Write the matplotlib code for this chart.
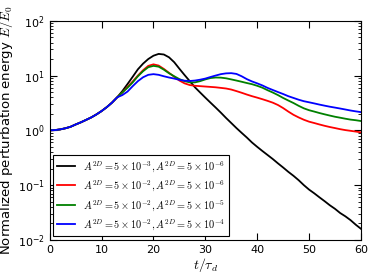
import matplotlib
matplotlib.use("Agg")
import matplotlib.pyplot as plt

plt.rcParams['mathtext.fontset'] = 'cm'

t = list(range(0, 61))

common = [1.0, 1.01, 1.04, 1.09, 1.16, 1.28, 1.40, 1.55, 1.72, 1.95, 2.25, 2.65, 3.2, 4.0]

e_black = common + [5.2, 7.0, 9.5, 13.0, 16.5, 20.0, 23.0, 24.8, 24.2, 21.5, 17.5, 13.3,
                    10.2, 7.9, 6.1, 4.9, 3.95, 3.2, 2.6, 2.1, 1.68, 1.36, 1.1, 0.9, 0.74,
                    0.6, 0.5, 0.42, 0.355, 0.30, 0.25, 0.21, 0.175, 0.148, 0.123, 0.10,
                    0.083, 0.071, 0.060, 0.051, 0.043, 0.037, 0.031, 0.027, 0.023, 0.019,
                    0.016]
e_red = common + [4.9, 6.2, 7.8, 10.0, 12.5, 15.0, 16.0, 15.2, 13.2, 11.2, 9.5, 8.1,
                  7.2, 6.7, 6.5, 6.4, 6.3, 6.2, 6.1, 5.95, 5.8, 5.55, 5.2, 4.85, 4.5, 4.2,
                  3.95, 3.7, 3.45, 3.2, 2.9, 2.55, 2.2, 1.92, 1.72, 1.56, 1.44, 1.36, 1.28,
                  1.21, 1.15, 1.1, 1.05, 1.01, 0.98, 0.95, 0.92]
e_green = common + [4.9, 6.0, 7.5, 9.7, 12.0, 14.2, 15.0, 14.5, 12.8, 11.0, 9.7, 8.6,
                    7.9, 7.5, 7.5, 7.9, 8.5, 9.0, 9.2, 9.15, 8.9, 8.5, 8.1, 7.7, 7.3, 6.95,
                    6.5, 6.0, 5.4, 4.9, 4.4, 3.9, 3.5, 3.15, 2.8, 2.52, 2.33, 2.2, 2.07,
                    1.96, 1.86, 1.77, 1.7, 1.63, 1.57, 1.53, 1.48]
e_blue = common + [4.4, 5.1, 6.4, 7.9, 9.3, 10.3, 10.6, 10.3, 9.7, 9.2, 8.8, 8.35, 8.05,
                   7.95, 8.1, 8.4, 8.8, 9.4, 10.0, 10.6, 10.95, 11.05, 10.7, 9.7, 8.6,
                   7.8, 7.2, 6.6, 5.95, 5.45, 5.0, 4.6, 4.2, 3.9, 3.62, 3.4, 3.25, 3.1,
                   2.95, 2.82, 2.7, 2.6, 2.5, 2.4, 2.3, 2.22, 2.15]

labels = [r'$A^{2D}=5\times10^{-3},A^{2D}=5\times10^{-6}$',
          r'$A^{2D}=5\times10^{-2},A^{2D}=5\times10^{-6}$',
          r'$A^{2D}=5\times10^{-2},A^{2D}=5\times10^{-5}$',
          r'$A^{2D}=5\times10^{-2},A^{2D}=5\times10^{-4}$']
colors = ['k', 'r', 'g', 'b']

fig = plt.figure(figsize=(3.74, 2.8), dpi=100)
ax = fig.add_axes([0.133, 0.143, 0.832, 0.783])

for e, c, lab in zip([e_black, e_red, e_green, e_blue], colors, labels):
    ax.plot(t, e, color=c, lw=1.3, label=lab)

ax.set_yscale('log')
ax.set_xlim(0, 60)
ax.set_ylim(1e-2, 1e2)
ax.set_xticks([0, 10, 20, 30, 40, 50, 60])
ax.tick_params(which='both', direction='in', top=True, right=True, labelsize=8)
ax.tick_params(which='major', length=5)
ax.tick_params(which='minor', length=2.5)
ax.set_xlabel(r'$t/\tau_d$', fontsize=10, labelpad=1)
ax.set_ylabel(r'Normalized perturbation energy $E/E_0$', fontsize=9.5, labelpad=2)

leg = ax.legend(loc='lower left', fontsize=7.4, handlelength=1.7, fancybox=False,
                framealpha=1, borderaxespad=0.35, labelspacing=0.45)
leg.get_frame().set_edgecolor('k')
leg.get_frame().set_linewidth(0.8)

fig.savefig('out.png', dpi=100)
